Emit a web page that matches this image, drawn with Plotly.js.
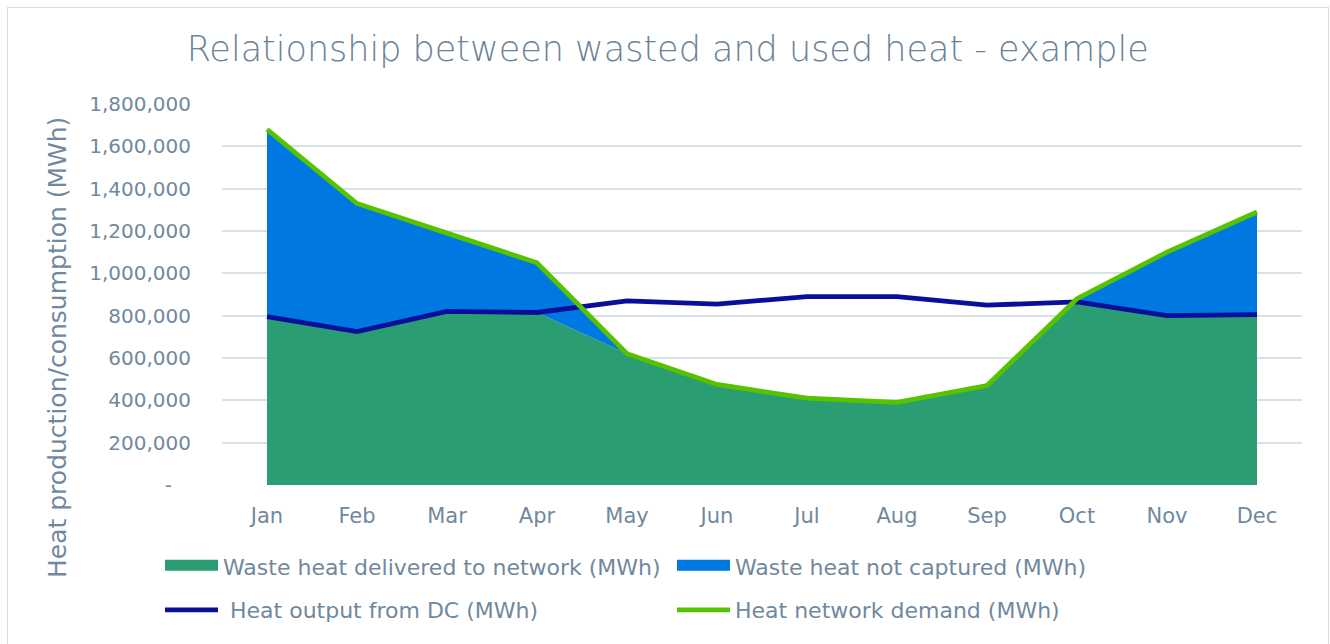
<!DOCTYPE html>
<html>
<head>
<meta charset="utf-8">
<script src="https://cdn.plot.ly/plotly-3.0.1.min.js"></script>
<style>
    body { margin: 0; background: #fff; }
    #chart { width: 1330px; height: 644px; }
    #frame {
        position: absolute; left: 7px; top: 7px;
        width: 1320px; height: 700px;
        border: 1px solid #d9dde2; pointer-events: none;
    }
</style>
</head>
<body>
<div id="chart"></div>
<div id="frame"></div>
<script>
// Monthly waste heat vs. heat network demand (MWh)

const months = ['Jan', 'Feb', 'Mar', 'Apr', 'May', 'Jun', 'Jul', 'Aug', 'Sep', 'Oct', 'Nov', 'Dec'];

// stacked areas
const deliveredToNetwork = [795000, 725000, 820000, 815000, 620000, 475000, 410000, 390000, 470000, 865000, 800000, 805000];
const notCaptured = [885000, 605000, 370000, 235000, 0, 0, 0, 0, 0, 15000, 300000, 485000];

// lines
const dcOutput = [795000, 725000, 820000, 815000, 870000, 855000, 890000, 890000, 850000, 865000, 800000, 805000];
const networkDemand = [1680000, 1330000, 1190000, 1050000, 620000, 475000, 410000, 390000, 470000, 880000, 1100000, 1290000];

const yTickVals = [0, 200000, 400000, 600000, 800000, 1000000, 1200000, 1400000, 1600000, 1800000];
const yTickText = ['-\u00a0\u00a0\u00a0', '200,000', '400,000', '600,000', '800,000', '1,000,000', '1,200,000', '1,400,000', '1,600,000', '1,800,000'];

// =========================================================================

const textColor = '#7089a0';
const fontFamily = '"DejaVu Sans", "Open Sans", sans-serif';

const colors = {
    delivered: '#2a9d72',
    notCaptured: '#0078e1',
    dc: '#0a0f9a',
    demand: '#57c300'
};

const data = [
    {
        name: 'Waste heat delivered to network (MWh)',
        x: months,
        y: deliveredToNetwork,
        type: 'scatter',
        mode: 'none',
        stackgroup: 'heat',
        fillcolor: colors.delivered,
        showlegend: false,
        hoverinfo: 'x+y'
    },
    {
        name: 'Waste heat not captured (MWh)',
        x: months,
        y: notCaptured,
        type: 'scatter',
        mode: 'none',
        stackgroup: 'heat',
        fillcolor: colors.notCaptured,
        showlegend: false,
        hoverinfo: 'x+y'
    },
    {
        name: '\u00a0Heat output from DC (MWh)',
        x: months,
        y: dcOutput,
        type: 'scatter',
        mode: 'lines',
        line: { color: colors.dc, width: 4.8 },
        legend: 'legend2'
    },
    {
        name: 'Heat network demand (MWh)',
        x: months,
        y: networkDemand,
        type: 'scatter',
        mode: 'lines',
        line: { color: colors.demand, width: 4.8 },
        legend: 'legend2'
    },
    // legend-only entries for the areas (taller swatch than plotly's default fill band)
    {
        name: 'Waste heat delivered to network (MWh)',
        x: [null],
        y: [null],
        type: 'scatter',
        mode: 'lines',
        fill: 'toself',
        fillcolor: colors.delivered,
        line: { color: colors.delivered, width: 10 },
        hoverinfo: 'skip',
        legend: 'legend'
    },
    {
        name: 'Waste heat not captured (MWh)',
        x: [null],
        y: [null],
        type: 'scatter',
        mode: 'lines',
        fill: 'toself',
        fillcolor: colors.notCaptured,
        line: { color: colors.notCaptured, width: 10 },
        hoverinfo: 'skip',
        legend: 'legend'
    }
];

const legendCommon = {
    orientation: 'h',
    traceorder: 'normal',
    xanchor: 'left',
    yanchor: 'middle',
    itemwidth: 53,
    entrywidth: 444,
    entrywidthmode: 'pixels',
    bgcolor: 'rgba(0,0,0,0)',
    font: { family: fontFamily, size: 22, color: textColor }
};

const layout = {
    width: 1330,
    height: 644,
    paper_bgcolor: '#ffffff',
    plot_bgcolor: '#ffffff',
    font: { family: fontFamily, color: textColor },
    margin: { l: 222, r: 28, t: 104, b: 159 },
    title: {
        text: 'Relationship between wasted and used heat - example',
        font: { family: fontFamily, size: 35, color: '#6a8398', weight: 200 },
        xref: 'container',
        x: 0.502,
        yref: 'container',
        y: 1 - 49 / 644,
        yanchor: 'middle'
    },
    xaxis: {
        type: 'category',
        range: [-0.5, 11.5],
        showgrid: false,
        zeroline: false,
        showline: false,
        ticks: '',
        ticklabelstandoff: 16,
        tickfont: { family: fontFamily, size: 21, color: textColor }
    },
    yaxis: {
        range: [0, 1800000],
        tickmode: 'array',
        tickvals: yTickVals,
        ticktext: yTickText,
        showgrid: true,
        gridcolor: '#d9e1e8',
        gridwidth: 2,
        zeroline: false,
        showline: false,
        ticks: '',
        ticklabelstandoff: 30,
        tickfont: { family: fontFamily, size: 20, color: textColor }
    },
    annotations: [
        {
            text: 'Heat production/consumption (MWh)',
            xref: 'paper',
            yref: 'paper',
            x: (57 - 222) / 1080,
            y: (485 - 348) / 381,
            xanchor: 'center',
            yanchor: 'middle',
            textangle: -90,
            showarrow: false,
            font: { family: fontFamily, size: 25, color: textColor }
        }
    ],
    legend: Object.assign({}, legendCommon, {
        x: (160 - 222) / 1080,
        y: (485 - 567) / 381
    }),
    legend2: Object.assign({}, legendCommon, {
        x: (160 - 222) / 1080,
        y: (485 - 610) / 381
    }),
    showlegend: true,
    hovermode: 'closest'
};

const config = {
    displayModeBar: false,
    responsive: false
};

Plotly.newPlot('chart', data, layout, config);
</script>
</body>
</html>
